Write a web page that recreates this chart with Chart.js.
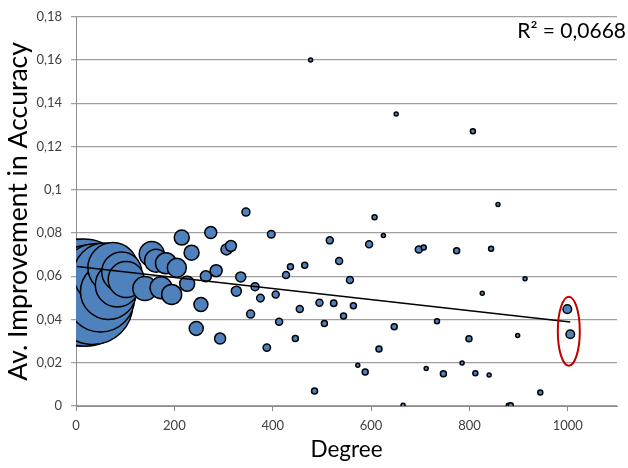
<!DOCTYPE html>
<html>
<head>
<meta charset="utf-8">
<script src="https://cdn.jsdelivr.net/npm/chart.js@4.4.1/dist/chart.umd.min.js"></script>
<style>
  html, body { margin: 0; padding: 0; background: #fff; }
  #chartGrado { display: block; }
</style>
</head>
<body>
<canvas id="chartGrado" width="628" height="468"></canvas>
<script>
// grado del nodo, mejora media de precision y tamano de burbuja
const degree = [
    2, 5, 10, 15, 20, 27, 34, 42, 50, 58, 66, 75, 84, 93, 102,
    140, 154, 163, 173, 183, 194.5, 205, 215, 226, 235, 244.5, 254, 264, 274, 285,
    293, 306, 315, 326, 335, 345.5, 355, 364, 375, 388, 397, 406, 413, 427, 436,
    446, 455, 465, 477, 485, 495, 505, 516, 524, 535, 544, 557, 564, 573, 588,
    596, 607, 616, 625, 647, 651, 665, 697, 707, 712, 734, 747, 774, 785, 799,
    807, 812, 826, 840, 844, 858, 879, 884, 898, 913, 944, 999, 1005
];
const accuracy = [
    0.052, 0.054, 0.050, 0.056, 0.048, 0.055, 0.047, 0.058, 0.050, 0.061, 0.053, 0.064, 0.056, 0.062, 0.0585,
    0.0543, 0.0703, 0.0672, 0.0547, 0.066, 0.0516, 0.0639, 0.0779, 0.0565, 0.0709, 0.0359, 0.0469, 0.060, 0.0802, 0.0626,
    0.0312, 0.0724, 0.074, 0.0531, 0.0597, 0.0897, 0.0425, 0.0552, 0.0499, 0.027, 0.0794, 0.0516, 0.039, 0.0606, 0.0644,
    0.0312, 0.0449, 0.0651, 0.16, 0.0069, 0.0478, 0.0381, 0.0766, 0.0475, 0.0671, 0.0416, 0.0583, 0.0464, 0.0189, 0.0157,
    0.0748, 0.0873, 0.0264, 0.0789, 0.0366, 0.1351, 0.0003, 0.0724, 0.0733, 0.0173, 0.0392, 0.0149, 0.0718, 0.0199, 0.0311,
    0.1271, 0.0151, 0.0522, 0.0143, 0.0727, 0.0932, 0.0003, 0.0003, 0.0326, 0.0588, 0.0063, 0.0448, 0.0332
];
const bubbleSize = [
    52, 50, 48, 46, 44, 42, 40, 37, 34, 31, 28, 25, 22, 20, 18,
    12, 12.5, 11.5, 11, 10.5, 10, 9.5, 7.5, 7.5, 7.5, 7, 7, 5.5, 6, 6,
    5.5, 5.5, 5.5, 5, 5, 4, 4, 4, 3.8, 3.7, 3.8, 3.5, 3.5, 3.5, 3,
    3, 3.5, 3, 2, 3, 3.5, 3, 3.5, 3.2, 3.5, 3, 3.5, 3, 2, 3,
    3.5, 2.5, 3, 2, 3, 2, 2, 3.5, 2.5, 2, 2.5, 3, 3, 2, 3,
    2.5, 2.5, 2, 2, 2.5, 2, 2, 2.5, 2, 2, 2.5, 4.3, 4.3
];

// linea de tendencia (extremos) y valor de R2
const trendDegree = [2, 1005];
const trendAccuracy = [0.0645, 0.0388];
const rCuadrado = 'R² = 0,0668';

const fuente = 'Lato, "Open Sans", sans-serif';

const puntos = degree.map((g, i) => ({ x: g, y: accuracy[i], r: bubbleSize[i] }));
const tendencia = trendDegree.map((g, i) => ({ x: g, y: trendAccuracy[i] }));

// elipse roja alrededor de los nodos de grado ~1000 y texto del R2
const extras = {
    id: 'extras',
    afterDatasetsDraw(chart) {
        const { ctx } = chart;
        const sx = chart.scales.x;
        const sy = chart.scales.y;
        ctx.save();
        ctx.strokeStyle = '#C00000';
        ctx.lineWidth = 2;
        ctx.beginPath();
        ctx.ellipse(sx.getPixelForValue(1002), sy.getPixelForValue(0.0346), 11, 34.5, 0, 0, Math.PI * 2);
        ctx.stroke();

        ctx.fillStyle = '#000';
        ctx.font = '21px ' + fuente;
        ctx.textAlign = 'right';
        ctx.textBaseline = 'alphabetic';
        ctx.fillText(rCuadrado, 626, 38);
        ctx.restore();
    }
};

const canvas = document.getElementById('chartGrado');
const context = canvas.getContext('2d');

const chartGrado = new Chart(context, {
    type: 'bubble',
    data: {
        datasets: [
            {
                type: 'line',
                data: tendencia,
                borderColor: '#000',
                borderWidth: 1.5,
                pointRadius: 0,
                fill: false
            },
            {
                type: 'bubble',
                data: puntos,
                backgroundColor: '#4F81BD',
                borderColor: '#000',
                borderWidth: 1.5
            }
        ]
    },
    options: {
        responsive: false,
        animation: false,
        layout: {
            autoPadding: false,
            padding: { top: 8, right: 11, left: 0, bottom: 0 }
        },
        plugins: {
            legend: { display: false },
            tooltip: { enabled: false }
        },
        scales: {
            x: {
                type: 'linear',
                min: 0,
                max: 1100,
                ticks: {
                    stepSize: 200,
                    includeBounds: false,
                    color: '#404040',
                    font: { family: fuente, size: 13 },
                    padding: 7,
                    callback: (v) => String(v)
                },
                grid: { drawOnChartArea: false, drawTicks: true, tickLength: 5, color: '#8c8c8c' },
                border: { color: '#8c8c8c' },
                title: {
                    display: true,
                    text: 'Degree',
                    color: '#000',
                    font: { family: fuente, size: 22.5 },
                    padding: { top: 0, bottom: 5 }
                },
                afterFit: (scale) => { scale.height = 62; }
            },
            y: {
                type: 'linear',
                min: 0,
                max: 0.18,
                ticks: {
                    stepSize: 0.02,
                    color: '#404040',
                    font: { family: fuente, size: 13 },
                    padding: 9,
                    callback: (v) => String(Math.round(v * 100) / 100).replace('.', ',')
                },
                grid: { color: '#a0a0a0', lineWidth: 1.25, tickLength: 5 },
                border: { color: '#8c8c8c' },
                title: {
                    display: true,
                    text: 'Av. Improvement in Accuracy',
                    color: '#000',
                    font: { family: fuente, size: 26.5 },
                    padding: { top: 3, bottom: 0 }
                },
                afterFit: (scale) => { scale.width = 76; }
            }
        }
    },
    plugins: [extras]
});
</script>
</body>
</html>
